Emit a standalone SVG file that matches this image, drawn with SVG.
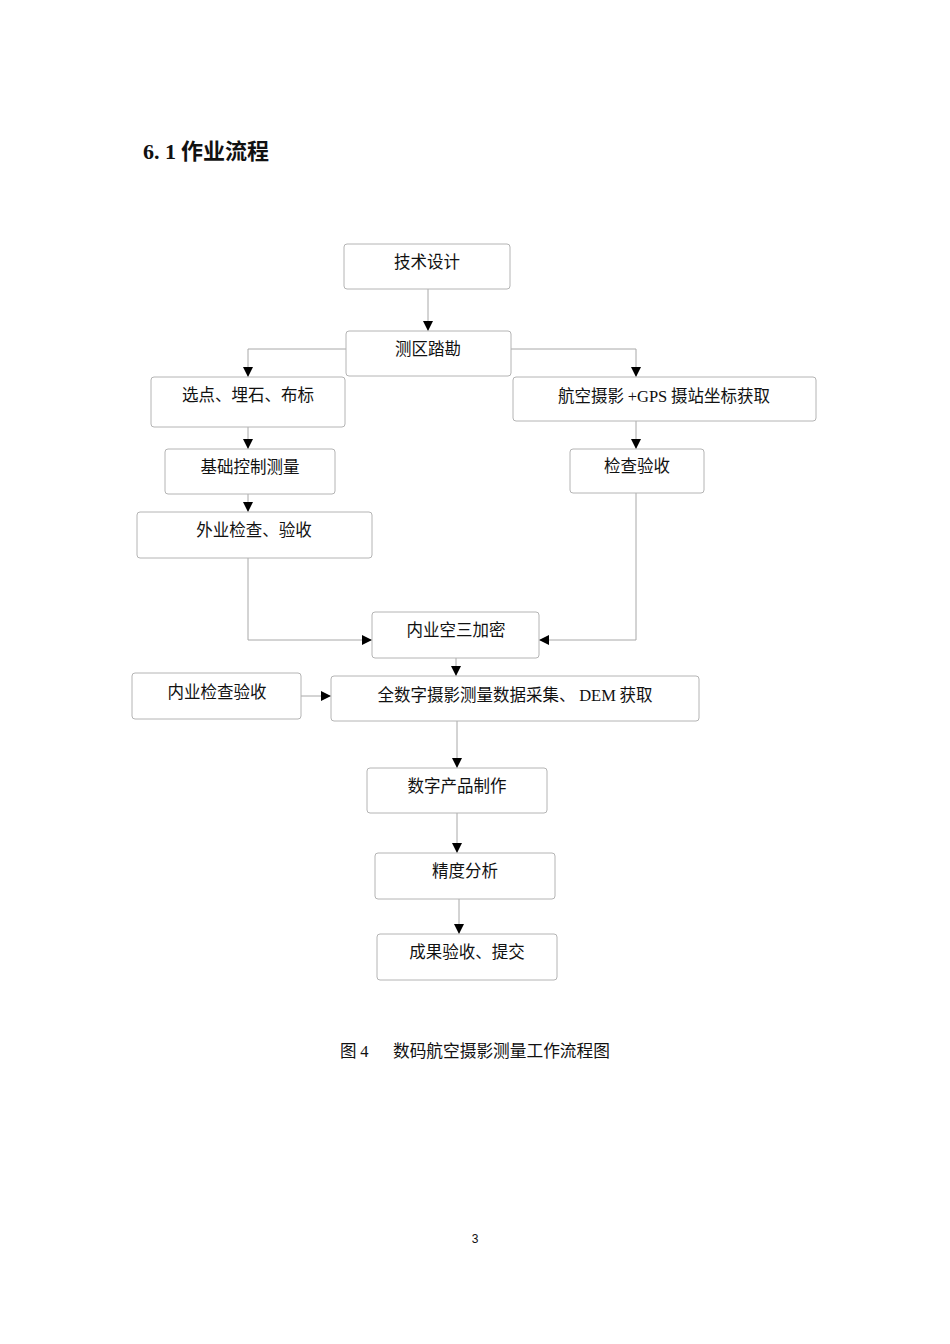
<svg xmlns="http://www.w3.org/2000/svg" width="950" height="1344" viewBox="0 0 950 1344">
<style>
.box{fill:#fff;stroke:#b4b4b4;stroke-width:1}
.t{font-family:"Noto Sans CJK SC","Noto Sans",sans-serif;font-size:16.5px;fill:#111;text-anchor:middle}
.lat{font-family:"Liberation Serif",serif}
.c{fill:none;stroke:#a8a8a8;stroke-width:1}
</style>
<defs>
<marker id="ah" viewBox="0 0 10 10" refX="10" refY="5" markerWidth="10" markerHeight="10" markerUnits="userSpaceOnUse" orient="auto">
<path d="M0,0 L10,5 L0,10 z" fill="#000"/>
</marker>
</defs>
<rect width="950" height="1344" fill="#fff"/>
<text x="143" y="159" font-family="Noto Sans CJK SC,sans-serif" font-size="22" font-weight="bold" fill="#111"><tspan font-family="Liberation Serif,serif">6. 1</tspan> 作业流程</text>

<g id="connectors">
<path class="c" d="M428,289 V331" marker-end="url(#ah)"/>
<path class="c" d="M346,349 H248 V377" marker-end="url(#ah)"/>
<path class="c" d="M511,349 H636 V377" marker-end="url(#ah)"/>
<path class="c" d="M248,427 V449" marker-end="url(#ah)"/>
<path class="c" d="M248,494 V512" marker-end="url(#ah)"/>
<path class="c" d="M248,558 V640 H372" marker-end="url(#ah)"/>
<path class="c" d="M636,421 V449" marker-end="url(#ah)"/>
<path class="c" d="M636,493 V640 H539" marker-end="url(#ah)"/>
<path class="c" d="M456,658 V676" marker-end="url(#ah)"/>
<path class="c" d="M301,696 H331" marker-end="url(#ah)"/>
<path class="c" d="M457,721 V768" marker-end="url(#ah)"/>
<path class="c" d="M457,813 V853" marker-end="url(#ah)"/>
<path class="c" d="M459,899 V934" marker-end="url(#ah)"/>
</g>

<g id="n1"><rect class="box" x="344" y="244" width="166" height="45" rx="3"/><text class="t" x="427" y="268">技术设计</text></g>
<g id="n2"><rect class="box" x="346" y="331" width="165" height="45" rx="3"/><text class="t" x="428" y="355">测区踏勘</text></g>
<g id="n3"><rect class="box" x="151" y="377" width="194" height="50" rx="3"/><text class="t" x="248" y="401">选点、埋石、布标</text></g>
<g id="n4"><rect class="box" x="513" y="377" width="303" height="44" rx="3"/><text class="t" x="664" y="402">航空摄影 <tspan class="lat">+GPS</tspan> 摄站坐标获取</text></g>
<g id="n5"><rect class="box" x="165" y="449" width="170" height="45" rx="3"/><text class="t" x="250" y="473">基础控制测量</text></g>
<g id="n6"><rect class="box" x="570" y="449" width="134" height="44" rx="3"/><text class="t" x="637" y="472">检查验收</text></g>
<g id="n7"><rect class="box" x="137" y="512" width="235" height="46" rx="3"/><text class="t" x="254" y="536">外业检查、验收</text></g>
<g id="n8"><rect class="box" x="372" y="612" width="167" height="46" rx="3"/><text class="t" x="456" y="636">内业空三加密</text></g>
<g id="n9"><rect class="box" x="132" y="673" width="169" height="46" rx="3"/><text class="t" x="217" y="698">内业检查验收</text></g>
<g id="n10"><rect class="box" x="331" y="676" width="368" height="45" rx="3"/><text class="t" x="515" y="701">全数字摄影测量数据采集、 <tspan class="lat">DEM</tspan> 获取</text></g>
<g id="n11"><rect class="box" x="367" y="768" width="180" height="45" rx="3"/><text class="t" x="457" y="792">数字产品制作</text></g>
<g id="n12"><rect class="box" x="375" y="853" width="180" height="46" rx="3"/><text class="t" x="465" y="877">精度分析</text></g>
<g id="n13"><rect class="box" x="377" y="934" width="180" height="46" rx="3"/><text class="t" x="467" y="958">成果验收、提交</text></g>

<text x="340" y="1057" font-family="Noto Sans CJK SC,sans-serif" font-size="16.5" fill="#111">图 <tspan font-family="Liberation Serif,serif">4</tspan></text>
<text x="393" y="1057" font-family="Noto Sans CJK SC,sans-serif" font-size="16.7" fill="#111">数码航空摄影测量工作流程图</text>
<text x="475" y="1243" font-family="Liberation Sans,sans-serif" font-size="12" fill="#111" text-anchor="middle">3</text>
</svg>
